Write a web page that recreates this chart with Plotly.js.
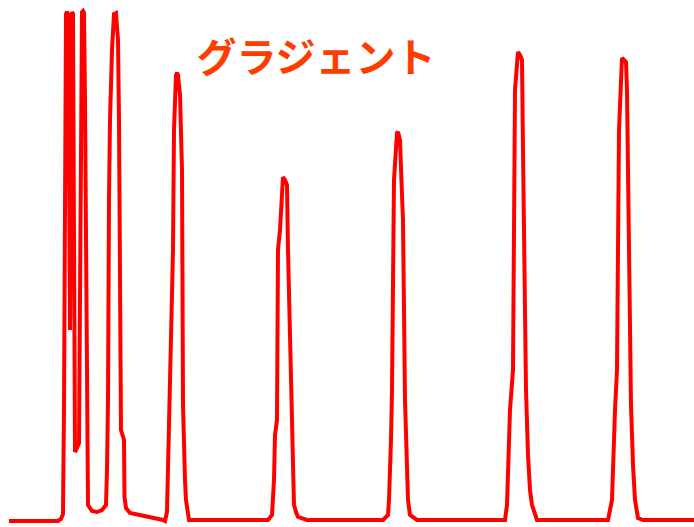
<!DOCTYPE html>
<html>
<head>
<meta charset="utf-8">
<script src="https://cdn.plot.ly/plotly-3.0.1.min.js"></script>
<style>html,body{margin:0;padding:0;background:#fff;}#chart{width:694px;height:527px;}</style>
</head>
<body>
<div id="chart"></div>
<script>
// Retention time (arbitrary units across the trace)
const time = [9,58,61,63,64,65,66,67,68,69,70,71,72,73,74,75,77,79,80,81,82,83,84,85,86,87,88,92,97,102,106,107,108,109,110,112,114,116,118,119,120,121,124,124.5,126,130,163,
165,167,168,169,170,171,173,174,175,176,177,178,180,181,182,183,184,185,186,187,189,
268,272,274,275,277,278,280,282,283,285,287,288,290,292,293,294,296,298,307,
383,388,389,391,392,394,396,397,398,400,402,403,405,407,408,410,417,
505,507,510,513,515,517,518,520,522,523,526,528,530,532,535,537,
608,612,615,617,619,621,622,624,626,627,628,631,633,635,638,643,694];
// Detector signal (pixel-height units, baseline ~6)
const ypix = [521,521,519,514,408,200,14,12,14,150,330,150,12,14,200,452,448,443,300,100,12,11,13,100,300,497,505,511,512,510,505,470,400,200,120,50,14,13,40,120,300,430,440,497,508,513,520,
521,512,470,420,400,375,250,130,85,75,73,75,95,140,170,405,460,480,500,510,520,
520,515,480,435,420,250,230,180,177,180,185,250,330,410,440,505,512,517,520,
520,515,500,440,390,180,140,133,132,140,195,220,400,455,500,515,520,
520,505,410,370,90,55,52,55,60,150,390,455,490,505,515,520,
520,500,410,370,130,60,58,60,62,90,160,405,465,500,518,520,520];
const signal = ypix.map(v => 527 - v);
const titleText = "グラジェント";

Plotly.newPlot('chart', [{
  x: time, y: signal, type: 'scatter', mode: 'lines',
  line: {color: '#ff0000', width: 4},
  hoverinfo: 'skip'
}], {
  width: 694, height: 527,
  margin: {l: 0, r: 0, t: 0, b: 0, pad: 0},
  paper_bgcolor: '#ffffff', plot_bgcolor: '#ffffff',
  showlegend: false,
  title: {
    text: '<b>' + titleText + '</b>',
    x: 316/694, xref: 'paper', xanchor: 'center',
    y: 1 - 58/527, yref: 'container', yanchor: 'middle',
    font: {family: '"Noto Sans CJK JP", "Noto Sans", sans-serif', size: 40, color: '#ff3c00'}
  },
  xaxis: {range: [0, 694], visible: false, fixedrange: true},
  yaxis: {range: [0, 527], visible: false, fixedrange: true}
}, {displayModeBar: false, staticPlot: true});
</script>
</body>
</html>
